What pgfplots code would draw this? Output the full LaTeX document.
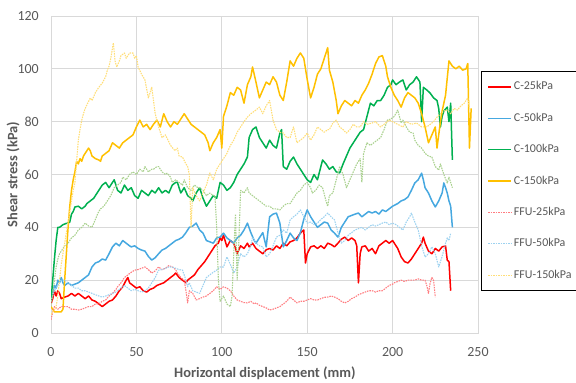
\documentclass[border=0pt]{standalone}
\usepackage{pgfplots}
\pgfplotsset{compat=1.18}
\usepackage{fontspec}
\setmainfont{Carlito}
\definecolor{gridgray}{RGB}{217,217,217}
\definecolor{txtgray}{RGB}{89,89,89}
\definecolor{cRed}{RGB}{255,0,0}
\definecolor{cBlue}{RGB}{70,168,224}
\definecolor{cGreen}{RGB}{0,176,80}
\definecolor{cOrange}{RGB}{255,192,0}
\definecolor{fRed}{RGB}{255,124,128}
\definecolor{fBlue}{RGB}{157,210,240}
\definecolor{fGreen}{RGB}{169,209,142}
\definecolor{fYellow}{RGB}{255,222,120}
\begin{document}
\begin{tikzpicture}
\begin{axis}[
  at={(51bp,50bp)}, anchor=south west,
  scale only axis, width=427bp, height=317bp,
  xmin=0, xmax=250, ymin=0, ymax=120,
  xtick={0,50,...,250}, ytick={0,20,...,120},
  major tick length=0pt,
  grid=major,
  grid style={draw=gridgray, line width=0.8bp},
  axis line style={draw=gridgray, line width=0.8bp},
  tick label style={font=\fontsize{14}{14}\selectfont, text=txtgray},
  /pgf/number format/assume math mode=true,
  xticklabel style={anchor=center, inner sep=0pt, yshift=-19bp},
  yticklabel style={anchor=east, inner sep=0pt, xshift=-12bp},
  xlabel={Horizontal displacement (mm)},
  ylabel={Shear stress (kPa)},
  xlabel style={at={(axis description cs:0.501,-0.126)}, anchor=center, font=\fontsize{14.5}{14.5}\selectfont\bfseries, text=txtgray},
  ylabel style={at={(axis description cs:-0.089,0.5)}, anchor=center, font=\fontsize{14.5}{14.5}\selectfont\bfseries, text=txtgray},
  legend image code/.code={\draw[#1] (0bp,0bp) -- (23bp,0bp);},
  legend style={at={(axis description cs:1.007,0.8265)}, anchor=north west,
    draw=black, line width=0.8bp, inner xsep=6bp, inner ysep=10bp,
    row sep=20.4bp, column sep=2bp,
    font=\fontsize{12}{12}\selectfont, text=txtgray,
    nodes={inner sep=0pt, text height=8.5bp, text depth=2.5bp}},
  legend cell align=left,
  every axis plot/.append style={line join=round},
]
% C-25kPa
\addplot[cRed, line width=1.5bp] coordinates {
(0,11)(1,13)(2,16)(3,14)(4,16)(5,15)(6,13)(8,13.6)(10,14)(12,15)(14,14)(16,15)(18,14)(20,13)(22,14)(24,12.5)(26,12)(28,11)(30,10)(32,11)(34,12)(36,12.5)(38,14)(40,16)(42,17.5)(44,20)(45,21)(46,19)(48,18)(50,17)(52,17.5)(54,16)(56,15.5)(58,16.5)(60,17)(62,18)(64,18.5)(66,19)(68,20)(70,21)(72,22)(73,22.7)(75,21)(77,20)(79,19)(80,20)(82,21)(84,22)(86,24)(88,25.5)(90,27)(92,29)(94,31)(96,33)(98,34)(99,36)(100,35)(101,37)(103,32.6)(105,35)(107,34)(109,30)(111,33)(113,32)(115,34)(116,32.6)(118,34)(120,32)(122,31)(124,30)(126,31.5)(128,32)(130,31.4)(132,33)(134,32)(136,34)(138,33)(140,34.5)(142,35)(144,36)(146,37.8)(148,39)(149,26.5)(150,30)(152,32.6)(154,33)(156,32)(158,33)(160,32)(162,34)(164,33.5)(166,32.6)(168,34)(170,35.5)(172,36.3)(174,35)(176,36)(178,35)(179,33)(180,19)(181,30)(182,32.6)(184,33)(186,31)(188,32)(190,30)(192,33)(194,34)(196,35)(198,34)(200,35)(201,34)(203,32)(205,28.8)(207,27)(209,26.5)(211,28)(213,30)(215,32)(217,34)(218,36.3)(219,34)(221,31)(223,30)(225,32)(227,31)(229,32.6)(231,33)(232,27.6)(233,27)(234,16)
};
\addlegendentry{C-25kPa}
% C-50kPa
\addplot[cBlue, line width=1.5bp] coordinates {
(0,13)(1,15)(2,18)(3,17)(4,20)(5,19)(6,21)(7,19)(8,18)(10,19)(12,18)(14,18.5)(16,19)(18,20)(20,21)(22,22)(24,25)(26,26.5)(28,27)(30,28)(32,27.6)(34,30)(36,32.6)(38,34)(40,33)(42,35)(44,34)(46,33)(47,32.6)(49,33)(51,32)(53,31.4)(55,31)(57,29)(59,27.6)(61,28.5)(63,30)(65,31.4)(67,32)(69,33)(71,34)(73,35)(75,35.5)(77,36.3)(79,38)(81,40)(83,40.5)(85,41.6)(87,39)(89,37.8)(91,35)(93,34.5)(95,34)(97,36)(99,36.3)(101,37.8)(103,36)(105,35)(107,34)(109,36)(111,37)(113,39)(115,41.6)(117,38)(119,35)(120,34)(122,36)(124,38)(126,32.6)(128,44)(130,45)(132,45.4)(134,41.6)(136,32.6)(138,35)(140,37.8)(142,36)(144,35)(146,38)(148,43)(150,46.6)(152,44)(154,42)(156,40)(158,41)(160,42)(162,41.6)(164,39)(166,37.8)(168,36.3)(170,40)(172,42)(174,44)(176,44.5)(178,45)(180,45.4)(182,44)(184,45)(186,46)(188,45.4)(190,46)(192,45)(194,46.6)(196,46)(198,47)(200,48)(203,49)(205,50)(207,50.5)(209,51.5)(211,54)(213,56.8)(215,58)(217,60.5)(218,58)(219,55)(221,53)(223,50)(225,47.7)(227,50)(229,53)(230,56.8)(231,55)(232,53)(233,50)(234,48)(235,40)
};
\addlegendentry{C-50kPa}
% C-100kPa
\addplot[cGreen, line width=1.5bp] coordinates {
(0,12)(1,20)(2,28)(3,35)(4,40)(5,40)(7,41)(9,41.5)(10,41.6)(11,42)(12,45)(13,46)(14,47.7)(16,48)(18,47)(20,48)(21,49)(23,50)(25,51)(27,53)(29,55)(30,56)(32,57)(34,55)(36,57)(37,58)(39,54)(41,53)(43,56)(45,54)(47,55)(49,52)(51,51)(53,54)(55,53)(57,52)(59,54)(61,53)(63,55)(65,53)(67,54)(69,53)(71,56)(73,57)(74,57)(76,53)(78,55)(80,52)(82,51)(83,50)(85,53)(87,55)(89,51)(91,48)(93,50)(95,52)(97,51)(99,57)(101,56)(103,54)(105,55)(107,57)(109,60)(111,62)(113,64)(115,66.6)(116,74)(118,77)(120,78)(122,74)(124,72)(126,70)(128,73)(130,71)(132,70)(134,75.6)(135,77)(136,63)(138,62)(140,65)(142,66.6)(144,64)(146,62)(148,60)(150,58)(152,57)(154,60)(156,58)(158,63)(159,65.5)(161,64)(163,62)(165,63)(167,61)(169,60.6)(171,64)(173,67)(175,70)(177,72)(179,74)(181,76)(183,77)(185,82)(187,87)(189,86)(191,88)(193,88)(195,90)(197,93)(199,94)(200,95.8)(202,94)(204,95)(206,95.8)(208,92)(210,94)(212,95)(214,97)(216,95)(217,80)(218,93)(220,92)(222,90.8)(224,89)(226,88)(227,85)(228,78)(229,82)(230,84)(232,85.5)(233,80)(234,87)(235,65.5)
};
\addlegendentry{C-100kPa}
% C-150kPa
\addplot[cOrange, line width=1.5bp] coordinates {
(0,10)(1,9)(2,8)(4,8)(6,8)(7,9)(8,20)(9,30)(10,40)(11,48)(12,54)(13,58)(14,61)(15,65)(16,64)(17,66)(18,65)(19,67)(20,68)(22,70)(23,69)(24,67)(26,66)(28,65.5)(29,65)(30,67)(32,68)(34,69)(36,72)(38,71)(40,70)(42,72)(44,73)(46,74)(48,75)(50,78)(52,80.6)(54,78)(56,79)(58,77)(60,79)(62,80.6)(64,78)(66,83)(68,80)(70,78)(72,80)(74,79)(76,81)(78,83)(80,81)(82,79)(84,78)(86,77)(88,76)(90,75)(92,72)(93,69)(95,72)(97,74)(99,77)(100,70)(101,82)(103,86)(105,91)(107,90)(109,93)(111,92)(113,87)(115,94)(117,97)(118,100.7)(120,95)(122,89)(124,92)(126,95)(128,94)(130,97)(132,95)(134,90)(136,88)(138,95)(140,103)(142,101)(144,104)(146,106)(148,104)(150,96)(152,89)(154,93)(156,98)(158,100)(160,104)(162,108)(163,99.5)(165,95)(167,88)(168,83)(170,86)(172,88)(174,87)(176,86)(178,88)(180,87)(182,90)(184,92)(186,94.6)(188,98)(190,102)(192,104.5)(194,105)(196,101)(197,97)(199,93)(201,90)(203,88)(205,85.5)(207,89)(209,91)(211,90)(213,89)(215,87)(217,83)(219,78)(221,72)(223,75)(225,78)(226,70)(228,80)(229,84)(231,90)(233,103)(235,101)(237,100)(239,101)(241,99.5)(243,100)(244,102)(245,70)(246,85)
};
\addlegendentry{C-150kPa}
% FFU-25kPa
\addplot[fRed, line width=1.1bp, dash pattern=on 1.5bp off 1bp] coordinates {
(0,5)(1,8)(2,10)(4,9)(6,10)(8,10)(10,10)(12,9)(14,9)(16,8.7)(18,9)(20,9.5)(22,10)(24,10)(26,11)(28,11)(30,12)(32,12.5)(34,14)(36,15)(38,16.5)(39,17.5)(41,19)(43,21)(45,22)(47,23)(49,23.8)(51,24)(53,24.5)(55,25)(57,24)(59,22.7)(61,23.5)(63,25)(65,24)(67,24.5)(69,25.5)(71,25)(73,24)(74,22.7)(76,21)(78,20)(79,16)(80,11.4)(81,16)(83,15)(85,12.5)(87,13)(89,13.6)(91,14)(93,15)(95,16)(97,17.5)(99,16.5)(101,17.5)(103,17)(105,16)(107,14)(109,12.5)(111,12)(113,11.5)(115,11.4)(117,12)(119,11)(120,11.4)(122,10.5)(124,10)(126,9.5)(128,8.7)(130,9)(132,9.5)(134,10)(136,11)(138,12)(140,13.6)(142,12.5)(144,11.4)(146,12)(148,12)(150,12.5)(152,13)(154,12.5)(156,12.5)(158,13)(160,13.5)(162,13.6)(164,14)(166,13.6)(168,13)(170,12)(172,11.4)(174,12)(176,13)(178,13.6)(180,14.5)(182,15)(184,15.5)(186,16)(188,16)(190,15.5)(192,16)(194,16)(196,17)(198,18)(200,18.5)(201,19)(203,19.5)(205,20)(207,19.5)(209,20)(211,20)(213,20)(215,20.5)(217,20)(219,20)(220,18)(221,15)(222,19)(223,21)(224,20)(225,13.6)
};
\addlegendentry{FFU-25kPa}
% FFU-50kPa
\addplot[fBlue, line width=1.1bp, dash pattern=on 1.5bp off 1bp] coordinates {
(0,12)(1,14)(2,16)(4,18)(6,20)(8,20)(10,19)(12,18)(14,17)(16,17)(18,16)(20,16)(22,15.5)(24,15)(26,14.5)(28,14)(30,13.6)(32,14)(34,14.5)(36,15)(38,15.5)(39,16)(41,17)(43,18)(45,17)(47,16)(49,16.5)(51,16)(53,15.5)(55,16)(57,17)(59,19)(61,21)(63,23.8)(65,24)(67,24.5)(69,25)(71,25)(73,24.5)(75,24)(77,23.8)(79,20)(80,17.5)(81,19)(83,16)(85,15.5)(87,15)(89,18)(91,21)(93,22)(95,23)(97,23.8)(99,25)(101,25)(103,28.8)(105,26)(107,22.7)(109,25)(111,30)(113,28.8)(115,30)(117,33)(118,36.3)(120,34)(122,33)(124,32.6)(126,28.8)(128,30)(130,33)(132,36.3)(134,37)(136,39)(138,37.8)(140,42.8)(142,44)(144,45)(146,46.6)(148,44)(150,41.6)(152,42)(154,41)(156,41.6)(158,43)(160,44)(162,45.4)(164,44)(166,42.8)(168,38)(170,34)(172,35)(174,37)(176,38)(178,39)(180,39.5)(182,40)(184,39)(186,40)(188,41)(190,40.5)(192,41)(194,41.6)(196,42)(198,41)(200,41.6)(202,41)(204,40)(206,39)(208,42)(210,44)(211,45.4)(213,42)(215,39)(217,33)(219,28.8)(221,30)(223,32.6)(225,30)(227,25)(229,29)(231,34)(232,36)(233,35)(234,37.8)
};
\addlegendentry{FFU-50kPa}
% FFU-100kPa (not in legend)
\addplot[fGreen, line width=1.1bp, dash pattern=on 1.5bp off 1bp, forget plot] coordinates {
(0,10)(1,15)(2,20)(3,25)(4,28)(5,30)(6,31)(8,33)(10,34)(12,36)(14,37)(16,39)(18,40)(20,41.6)(22,40.5)(24,40)(26,43)(27.5,45.4)(29,47)(31,48)(33,50)(35,52)(37,55)(39,56)(41,57)(42,59)(44,58)(46,60)(48,61)(50,60)(52,62)(54,61)(55,63)(57,61)(59,62)(60,62)(62,63)(63,63)(65,61)(67,60)(68,60.5)(70,59)(71,57)(73,58)(75,57)(77,56)(78,58)(80,55)(82,54)(84,56)(86,55)(87,55)(89,54)(91,52)(93,53)(95,52)(96,52)(97,40)(98,20)(99,12)(101,14)(103,11)(105,10)(106,14)(107,30)(108,45)(109,20)(110,35)(111,54)(113,53)(115,55)(116,53)(118,52)(120,51)(122,50)(124,49)(126,48)(128,48)(130,47)(132,47)(134,46.6)(136,48)(138,49)(140,49)(142,51)(144,53)(146,54)(148,56)(150,57)(152,55)(153,53)(155,54)(157,56)(159,55)(161,50)(162,48)(163,52)(165,53)(167,58)(169,63)(171,60)(173,55)(175,58)(177,61)(179,64)(181,66)(182,57)(183,68)(185,72)(187,71)(189,72)(191,73)(193,74)(195,77)(197,80.6)(199,81)(201,82)(203,84.4)(205,79.5)(206,80.6)(208,78)(210,76)(212,75.7)(213,73)(215,71)(217,70)(219,68)(221,67)(223,66.6)(225,63)(227,61.7)(228,64)(230,60)(232,56.8)(233,59)(235,55)
};
% FFU-150kPa
\addplot[fYellow, line width=1.1bp, dash pattern=on 1.5bp off 1bp] coordinates {
(0,7)(1,8)(2,8.7)(3,10)(4,14)(5,20)(6,26)(7,30)(8,34)(9,38)(10,42)(11,46)(12,50)(13,54)(14,56.8)(15,65)(16,73)(17,77)(18,80.6)(19,83)(20,85)(21.5,87)(23,89)(24,88)(26,91)(28,93)(30,94.6)(32,97)(33,99.5)(34,101)(35,104)(36.5,109.8)(37.5,103)(38.5,100.7)(40,103)(41,105)(43,106)(44,104)(46,106)(48,106)(49,104)(50,105)(51,100.7)(53,98)(55,95.8)(57,89)(59,93)(60,88)(61,83)(63,78)(65,74)(67,75)(68.5,73)(70,71)(72.6,69)(74,70)(75,67)(77,66.6)(79,64)(80,63)(81,60)(82,40)(83,55)(85,52)(87,50)(89,53)(91,56)(93,60.6)(95,58)(97,62)(99,64)(101,66)(103,68)(105,71)(107,73)(109,76)(111,78)(113,80)(115,81.7)(117,83)(120,84.4)(122,85.5)(124,83)(126,86)(128,88)(130,80.6)(132,77)(134,76)(136,75.7)(138,74)(140,74)(142,78)(144,72)(146,73)(148,74)(150,75.7)(152,73)(154,75)(156,78)(158,77)(160,76)(162,77)(163,77)(165,79.5)(167,80.6)(169,78)(171,77)(173,75.7)(175,77)(177,79)(179,78)(181,78)(183,80)(185,79)(188,79.5)(190,80)(193,78)(195,79)(198,80.6)(200,80)(203,79)(206,78)(208,80)(211,79)(214,79.5)(217,78)(220,78)(222,79)(224,80)(226,81.7)(228,83)(230,84)(232,84.4)(234,83)(236,85)(238,84.4)(240,86)(242,87)(244,89)(245,85)
};
\addlegendentry{FFU-150kPa}
\end{axis}
\pgfresetboundingbox
\useasboundingbox (0bp,0bp) rectangle (576bp,383bp);
\end{tikzpicture}
\end{document}
